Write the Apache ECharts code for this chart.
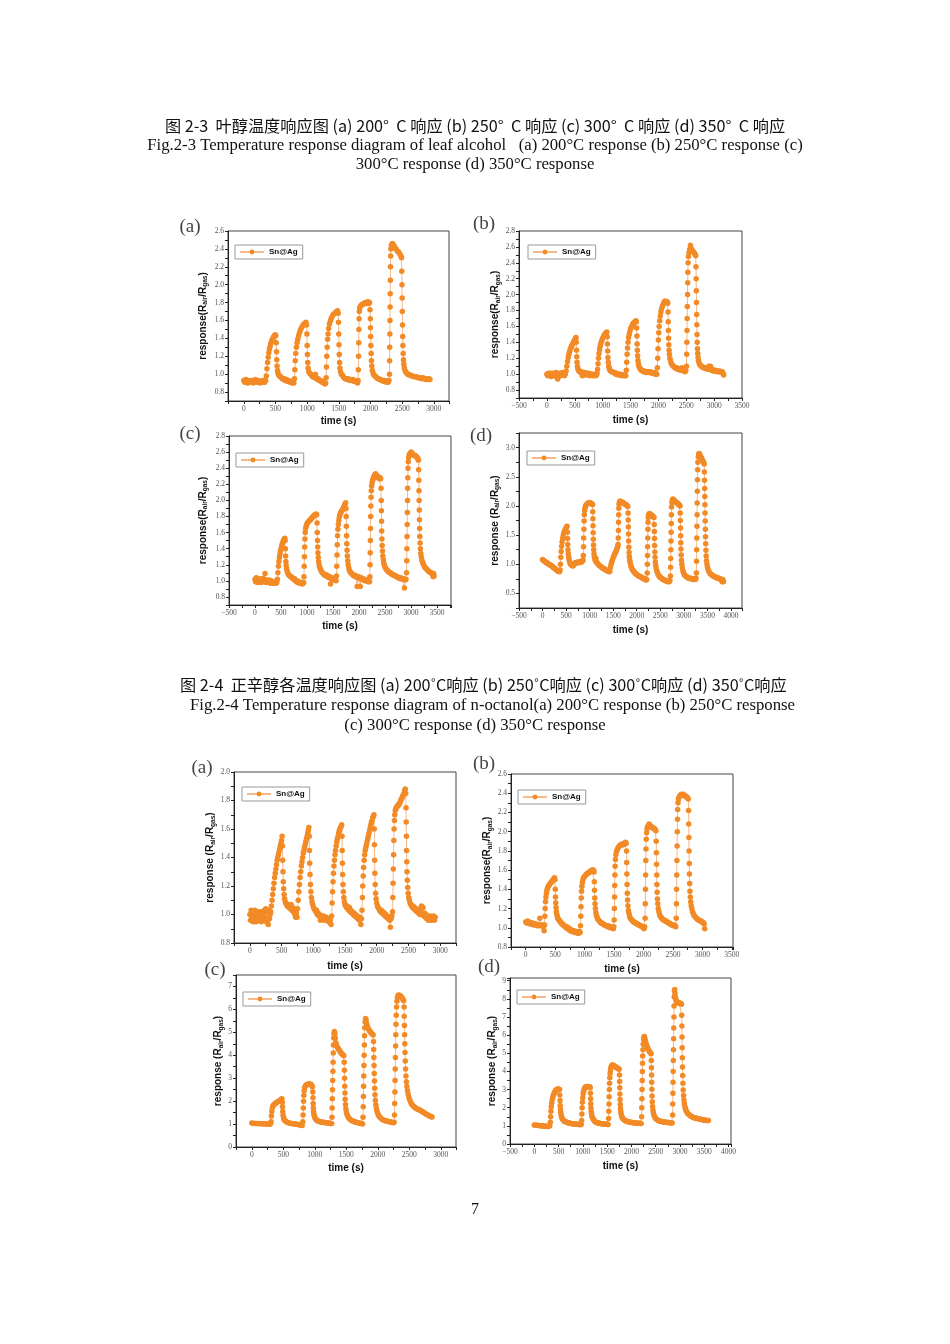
<!DOCTYPE html>
<html>
<head>
<meta charset="utf-8">
<script src="https://cdn.jsdelivr.net/npm/echarts@6/dist/echarts.min.js"></script>
<style>
  html, body { margin: 0; padding: 0; background: #fff; }
  #chart { width: 950px; height: 1344px; }
</style>
</head>
<body>
<div id="chart"></div>
<script>
// time (s) / response pairs, one array per panel

// Fig.2-3 leaf alcohol
const leafA = [
  [0,0.93],[15,0.91],[30,0.94],[45,0.92],[60,0.90],[75,0.93],[90,0.92],[105,0.91],[120,0.93],[135,0.92],[150,0.90],[165,0.93],[180,0.94],[195,0.92],[210,0.91],[225,0.93],[240,0.92],[255,0.90],[270,0.92],[285,0.91],[300,0.93],[315,0.92],[330,0.91],[345,0.93],
  [355,0.98],[365,1.06],[375,1.13],[385,1.19],[395,1.24],[405,1.28],[415,1.31],[425,1.34],[435,1.36],[445,1.38],[455,1.39],[465,1.41],[475,1.42],[485,1.43],[495,1.44],[505,1.43],[512,1.35],[516,1.25],[520,1.16],[525,1.09],[532,1.04],[540,1.01],[550,0.99],[565,0.98],[580,0.97],[595,0.96],[610,0.95],[625,0.94],[640,0.95],[655,0.93],[670,0.94],[685,0.92],[700,0.93],[715,0.92],[730,0.91],[745,0.92],[760,0.90],[775,0.91],[790,0.90],
  [800,0.95],[805,1.05],[812,1.15],[820,1.23],[830,1.30],[840,1.35],[852,1.39],[865,1.43],[878,1.46],[892,1.49],[905,1.51],[920,1.53],[935,1.55],[950,1.56],[965,1.57],[980,1.58],[990,1.55],[996,1.45],[1000,1.32],[1004,1.22],[1009,1.13],[1015,1.07],[1025,1.03],[1040,1.01],[1055,1.00],[1070,0.99],[1085,0.97],[1100,0.98],[1115,0.96],[1130,1.00],[1145,0.96],[1160,0.94],[1175,0.95],[1190,0.93],[1205,0.93],[1220,0.92],[1235,0.91],[1250,0.92],[1265,0.90],[1280,0.89],[1292,0.90],
  [1300,0.96],[1305,1.08],[1310,1.20],[1316,1.30],[1323,1.39],[1330,1.45],[1340,1.51],[1352,1.56],[1365,1.59],[1378,1.62],[1392,1.64],[1406,1.66],[1420,1.67],[1435,1.68],[1450,1.69],[1465,1.70],[1480,1.71],[1490,1.68],[1495,1.58],[1499,1.45],[1503,1.33],[1507,1.22],[1512,1.13],[1518,1.07],[1526,1.03],[1540,1.00],[1555,0.99],[1570,0.97],[1585,0.96],[1600,0.95],[1615,0.95],[1630,0.94],[1645,0.95],[1660,0.94],[1675,0.93],[1690,0.94],[1705,0.93],[1720,0.94],[1735,0.92],[1750,0.93],[1765,0.92],[1780,0.91],[1795,0.90],
  [1805,0.93],[1808,1.05],[1811,1.20],[1814,1.35],[1817,1.50],[1820,1.62],[1824,1.70],[1830,1.74],[1840,1.76],[1855,1.77],[1870,1.78],[1885,1.78],[1900,1.79],[1915,1.80],[1930,1.79],[1945,1.80],[1960,1.81],[1975,1.79],[1985,1.80],[1993,1.72],[1997,1.62],[2000,1.52],[2003,1.42],[2006,1.32],[2010,1.23],[2015,1.15],[2021,1.09],[2030,1.04],[2042,1.01],[2055,0.99],[2070,0.98],[2085,0.97],[2100,0.96],[2115,0.95],[2130,0.95],[2145,0.94],[2160,0.94],[2175,0.93],[2190,0.93],[2205,0.92],[2220,0.93],[2235,0.92],[2250,0.91],[2265,0.92],[2280,0.91],[2292,0.93],
  [2300,1.00],[2302,1.15],[2304,1.30],[2306,1.45],[2308,1.60],[2310,1.75],[2312,1.90],[2314,2.05],[2316,2.20],[2318,2.32],[2322,2.40],[2330,2.44],[2345,2.46],[2360,2.45],[2375,2.43],[2390,2.41],[2405,2.40],[2420,2.38],[2435,2.37],[2450,2.36],[2465,2.34],[2480,2.32],[2490,2.30],[2494,2.15],[2497,2.00],[2500,1.85],[2503,1.70],[2506,1.55],[2509,1.42],[2512,1.32],[2516,1.23],[2521,1.16],[2527,1.11],[2535,1.07],[2545,1.04],[2560,1.02],[2575,1.01],[2590,1.00],[2610,0.99],[2630,0.99],[2650,0.98],[2670,0.98],[2690,0.97],[2710,0.97],[2730,0.97],[2750,0.96],[2770,0.96],[2790,0.96],[2810,0.95],[2830,0.96],[2850,0.95],[2870,0.94],[2890,0.95],[2910,0.94],[2925,0.95],[2940,0.94]
];

const leafB = [
  [0,1.00],[15,0.98],[30,1.01],[45,0.99],[60,1.01],[75,0.97],[90,1.00],[105,1.01],[120,0.98],[135,1.00],[150,0.99],[165,1.02],[180,0.96],[195,0.94],[210,0.99],[225,1.01],[240,0.98],[255,1.00],[270,1.02],[285,0.99],[300,1.00],[315,0.98],[330,1.00],
  [345,1.04],[358,1.10],[370,1.16],[382,1.21],[394,1.25],[406,1.28],[418,1.31],[430,1.33],[442,1.35],[454,1.37],[466,1.38],[478,1.40],[490,1.42],[502,1.43],[514,1.45],[522,1.46],[528,1.40],[532,1.30],[536,1.22],[541,1.15],[548,1.10],[556,1.07],[566,1.05],[578,1.04],[590,1.03],[605,1.02],[620,1.03],[635,0.98],[650,1.02],[665,1.01],[680,1.02],[695,0.99],[710,1.01],[725,1.00],[740,0.99],[755,1.01],[770,0.98],[785,1.00],[800,0.99],[815,1.00],[830,0.98],[845,1.00],[860,0.99],[875,0.98],[890,0.99],[900,1.01],
  [910,1.06],[918,1.13],[926,1.20],[935,1.26],[945,1.31],[955,1.35],[966,1.38],[978,1.41],[990,1.43],[1002,1.45],[1015,1.47],[1028,1.49],[1040,1.50],[1052,1.51],[1064,1.52],[1075,1.53],[1082,1.47],[1086,1.38],[1090,1.29],[1095,1.21],[1101,1.15],[1109,1.10],[1119,1.07],[1131,1.05],[1145,1.04],[1160,1.03],[1175,1.03],[1190,1.02],[1205,1.02],[1220,1.01],[1235,1.00],[1250,1.01],[1265,1.00],[1280,0.99],[1295,1.00],[1310,0.99],[1325,1.00],[1340,0.98],[1355,0.99],[1370,0.99],[1385,0.98],[1400,0.99],[1415,0.98],
  [1425,1.05],[1432,1.15],[1439,1.25],[1447,1.33],[1456,1.40],[1466,1.46],[1477,1.50],[1489,1.54],[1502,1.57],[1515,1.59],[1528,1.61],[1541,1.63],[1554,1.64],[1567,1.65],[1580,1.66],[1595,1.67],[1605,1.66],[1611,1.58],[1615,1.48],[1619,1.38],[1623,1.30],[1628,1.23],[1634,1.17],[1642,1.13],[1652,1.10],[1664,1.08],[1678,1.06],[1692,1.05],[1706,1.05],[1720,1.04],[1735,1.03],[1750,1.04],[1765,1.03],[1780,1.02],[1795,1.03],[1810,1.02],[1825,1.03],[1840,1.02],[1855,1.03],[1870,1.02],[1885,1.01],[1900,1.02],[1915,1.01],[1930,1.02],[1945,1.00],[1960,1.01],[1972,1.00],
  [1982,1.08],[1988,1.20],[1994,1.32],[2000,1.43],[2007,1.52],[2015,1.60],[2024,1.67],[2034,1.73],[2045,1.78],[2057,1.82],[2070,1.85],[2083,1.87],[2096,1.89],[2108,1.91],[2120,1.92],[2132,1.91],[2145,1.90],[2158,1.91],[2168,1.89],[2174,1.78],[2177,1.66],[2180,1.55],[2183,1.45],[2187,1.37],[2192,1.30],[2198,1.25],[2206,1.20],[2216,1.17],[2228,1.14],[2242,1.12],[2256,1.11],[2270,1.10],[2285,1.09],[2300,1.08],[2315,1.07],[2330,1.08],[2345,1.06],[2360,1.07],[2375,1.06],[2390,1.05],[2405,1.06],[2420,1.08],[2435,1.05],[2450,1.04],[2465,1.06],[2480,1.03],[2492,1.05],
  [2505,1.10],[2508,1.25],[2511,1.40],[2514,1.55],[2517,1.70],[2520,1.85],[2523,2.00],[2526,2.15],[2529,2.28],[2533,2.40],[2540,2.48],[2550,2.53],[2562,2.57],[2575,2.62],[2588,2.58],[2600,2.56],[2612,2.55],[2624,2.54],[2636,2.53],[2648,2.52],[2660,2.50],[2670,2.49],[2675,2.35],[2678,2.20],[2681,2.05],[2684,1.90],[2687,1.75],[2690,1.62],[2693,1.50],[2697,1.40],[2701,1.32],[2706,1.26],[2712,1.21],[2720,1.17],[2730,1.14],[2742,1.12],[2755,1.11],[2770,1.10],[2785,1.09],[2800,1.09],[2815,1.08],[2830,1.08],[2845,1.07],[2860,1.07],[2875,1.06],[2890,1.07],[2905,1.10],[2920,1.06],[2935,1.10],[2950,1.05],[2965,1.06],[2980,1.04],[2995,1.05],[3010,1.04],[3025,1.05],[3040,1.04],[3055,1.03],[3070,1.04],[3085,1.03],[3100,1.04],[3115,1.03],[3130,1.02],[3145,1.03],[3160,1.01],[3172,0.99]
];

const leafC = [
  [0,1.02],[12,0.99],[24,1.04],[36,1.00],[48,0.98],[60,1.03],[72,1.01],[84,0.99],[96,1.02],[108,1.00],[120,0.98],[132,1.01],[144,1.03],[156,0.99],[168,1.00],[180,1.02],[192,1.09],[204,1.00],[216,0.98],[228,1.01],[240,0.99],[252,1.00],[264,0.98],[276,1.01],[288,0.99],[300,0.97],[312,1.00],[324,0.98],[336,0.99],[348,0.97],[360,0.99],[372,0.98],[384,0.97],[396,0.99],[408,0.97],[420,0.98],
  [430,1.02],[440,1.10],[450,1.18],[460,1.24],[470,1.29],[480,1.33],[490,1.37],[500,1.40],[512,1.43],[524,1.46],[536,1.48],[548,1.50],[560,1.51],[572,1.53],[580,1.50],[585,1.40],[589,1.31],[594,1.24],[600,1.19],[608,1.15],[618,1.12],[630,1.10],[644,1.08],[658,1.07],[672,1.06],[686,1.05],[700,1.05],[714,1.04],[728,1.03],[742,1.02],[756,1.03],[770,1.01],[784,1.00],[798,0.99],[812,1.00],[826,0.98],[840,0.99],[854,0.97],[868,0.98],[882,0.97],[896,0.98],[910,0.96],[924,0.97],[936,0.98],
  [942,1.05],[946,1.18],[950,1.30],[955,1.42],[960,1.52],[966,1.60],[974,1.65],[984,1.68],[995,1.70],[1008,1.72],[1022,1.73],[1036,1.74],[1050,1.75],[1064,1.76],[1078,1.77],[1092,1.78],[1106,1.79],[1120,1.80],[1134,1.81],[1148,1.82],[1162,1.82],[1176,1.83],[1188,1.82],[1194,1.72],[1198,1.60],[1202,1.50],[1206,1.42],[1211,1.35],[1217,1.29],[1224,1.24],[1233,1.20],[1244,1.17],[1256,1.15],[1270,1.13],[1284,1.11],[1298,1.10],[1312,1.09],[1326,1.08],[1340,1.07],[1354,1.08],[1368,1.06],[1382,1.07],[1396,1.05],[1410,1.06],[1424,1.04],[1438,1.05],[1452,0.96],[1466,1.03],[1480,1.04],[1494,1.02],[1506,1.03],[1520,1.01],[1534,1.02],[1548,1.01],[1560,1.00],
  [1568,1.06],[1572,1.18],[1577,1.32],[1582,1.45],[1588,1.56],[1595,1.64],[1603,1.70],[1612,1.75],[1622,1.79],[1633,1.82],[1645,1.84],[1657,1.86],[1670,1.87],[1683,1.88],[1696,1.90],[1709,1.92],[1722,1.94],[1735,1.96],[1744,1.97],[1750,1.90],[1754,1.80],[1758,1.68],[1762,1.56],[1766,1.46],[1771,1.38],[1777,1.31],[1784,1.25],[1793,1.20],[1804,1.16],[1817,1.13],[1831,1.11],[1845,1.10],[1860,1.09],[1875,1.08],[1890,1.07],[1905,1.06],[1920,1.07],[1935,1.05],[1950,1.06],[1965,0.93],[1980,1.04],[1995,1.05],[2010,1.03],[2025,0.93],[2040,1.04],[2055,1.02],[2070,1.03],[2085,1.01],[2100,1.02],[2115,1.00],[2130,1.01],[2145,1.00],[2160,1.01],[2175,0.99],[2190,1.00],[2203,0.99],
  [2210,1.05],[2213,1.20],[2216,1.35],[2219,1.50],[2222,1.65],[2225,1.80],[2228,1.93],[2232,2.04],[2237,2.12],[2244,2.18],[2252,2.22],[2262,2.25],[2272,2.27],[2284,2.29],[2296,2.31],[2308,2.32],[2320,2.33],[2332,2.31],[2344,2.29],[2356,2.30],[2368,2.28],[2380,2.29],[2392,2.27],[2404,2.28],[2416,2.27],[2424,2.15],[2428,2.00],[2431,1.87],[2434,1.74],[2437,1.62],[2441,1.52],[2446,1.44],[2452,1.37],[2459,1.31],[2468,1.26],[2478,1.22],[2490,1.19],[2503,1.17],[2517,1.15],[2531,1.14],[2545,1.13],[2560,1.12],[2575,1.11],[2590,1.10],[2605,1.10],[2620,1.09],[2635,1.08],[2650,1.08],[2665,1.07],[2680,1.07],[2695,1.06],[2710,1.06],[2725,1.05],[2740,1.05],[2755,1.04],[2770,1.04],[2785,1.03],[2800,1.04],[2815,1.03],[2830,1.02],[2845,1.03],[2860,1.02],[2875,0.91],[2890,1.01],[2905,1.02],
  [2915,1.10],[2918,1.25],[2921,1.40],[2924,1.55],[2927,1.70],[2930,1.85],[2933,2.00],[2936,2.15],[2939,2.28],[2943,2.40],[2948,2.48],[2955,2.53],[2965,2.56],[2977,2.58],[2990,2.59],[3003,2.60],[3016,2.59],[3029,2.58],[3042,2.57],[3055,2.56],[3068,2.56],[3081,2.55],[3094,2.55],[3107,2.54],[3120,2.53],[3133,2.52],[3143,2.50],[3148,2.38],[3151,2.25],[3154,2.12],[3157,2.00],[3160,1.88],[3163,1.76],[3166,1.65],[3170,1.55],[3175,1.47],[3181,1.40],[3189,1.34],[3198,1.30],[3209,1.26],[3222,1.23],[3236,1.21],[3250,1.19],[3265,1.17],[3280,1.16],[3295,1.15],[3310,1.14],[3325,1.13],[3340,1.12],[3355,1.11],[3370,1.11],[3385,1.10],[3400,1.09],[3415,1.08],[3425,1.05],[3435,1.09],[3445,1.06]
];

const leafD = [
  [0,1.08],[15,1.07],[30,1.06],[45,1.05],[60,1.04],[75,1.03],[90,1.02],[105,1.02],[120,1.01],[135,1.00],[150,0.99],[165,0.99],[180,0.98],[195,0.97],[210,0.96],[225,0.95],[240,0.94],[255,0.93],[270,0.92],[285,0.91],[300,0.90],[315,0.89],[330,0.88],[345,0.88],[360,0.87],[372,0.90],
  [380,1.00],[388,1.12],[396,1.22],[405,1.31],[415,1.38],[426,1.44],[438,1.49],[450,1.53],[462,1.56],[474,1.58],[486,1.60],[498,1.62],[510,1.64],[520,1.65],[527,1.55],[531,1.44],[535,1.34],[540,1.25],[546,1.18],[553,1.13],[562,1.09],[572,1.05],[584,1.02],[596,1.00],[610,0.99],[624,0.98],[640,0.97],[656,0.98],[672,1.00],[688,1.02],[704,1.03],[720,1.03],[736,1.02],[752,1.04],[768,1.03],[784,1.04],[800,1.03],[816,1.05],[832,1.04],[848,1.06],[860,1.07],
  [866,1.15],[870,1.30],[874,1.45],[878,1.60],[882,1.74],[887,1.85],[893,1.92],[902,1.97],[914,2.00],[928,2.02],[942,2.03],[956,2.04],[970,2.05],[984,2.05],[998,2.06],[1012,2.05],[1026,2.04],[1040,2.04],[1054,2.03],[1062,2.02],[1066,1.90],[1069,1.78],[1072,1.66],[1075,1.54],[1078,1.43],[1082,1.33],[1087,1.25],[1093,1.18],[1100,1.13],[1110,1.09],[1122,1.06],[1134,1.10],[1146,1.04],[1160,1.02],[1175,1.01],[1190,0.99],[1205,0.98],[1220,0.97],[1235,0.96],[1250,0.95],[1265,0.94],[1280,0.93],[1295,0.93],[1310,0.92],[1325,0.91],[1340,0.90],[1355,0.90],[1370,0.89],[1385,0.88],[1400,0.88],[1415,0.87],[1430,0.88],
  [1442,0.95],[1455,1.00],[1468,1.04],[1481,1.07],[1494,1.10],[1507,1.13],[1520,1.15],[1533,1.18],[1546,1.20],[1559,1.22],[1572,1.25],[1585,1.28],[1596,1.31],[1604,1.34],[1608,1.45],[1611,1.58],[1614,1.72],[1617,1.85],[1620,1.96],[1625,2.03],[1632,2.06],[1642,2.08],[1655,2.08],[1668,2.07],[1681,2.07],[1694,2.06],[1707,2.05],[1720,2.05],[1733,2.04],[1746,2.03],[1759,2.03],[1772,2.02],[1785,2.01],[1798,2.00],[1810,1.99],[1816,1.88],[1819,1.76],[1822,1.64],[1825,1.52],[1828,1.40],[1832,1.29],[1837,1.20],[1843,1.13],[1851,1.07],[1861,1.02],[1873,0.98],[1886,0.95],[1900,0.92],[1915,0.90],[1930,0.88],[1945,0.87],[1960,0.85],[1975,0.84],[1990,0.83],[2005,0.82],[2020,0.81],[2035,0.80],[2050,0.80],[2065,0.79],[2080,0.78],[2095,0.78],[2110,0.77],[2125,0.76],[2140,0.76],[2155,0.75],[2170,0.74],[2185,0.75],[2200,0.73],[2212,0.74],
  [2222,0.85],[2225,1.00],[2228,1.15],[2231,1.30],[2234,1.45],[2237,1.60],[2240,1.72],[2244,1.80],[2250,1.84],[2260,1.86],[2272,1.87],[2284,1.86],[2296,1.85],[2308,1.84],[2320,1.84],[2332,1.83],[2344,1.82],[2356,1.81],[2366,1.80],[2371,1.68],[2374,1.56],[2377,1.44],[2380,1.32],[2384,1.21],[2389,1.12],[2395,1.04],[2403,0.98],[2413,0.93],[2425,0.89],[2438,0.86],[2452,0.83],[2466,0.81],[2480,0.79],[2495,0.78],[2510,0.77],[2525,0.76],[2540,0.75],[2555,0.74],[2570,0.74],[2585,0.73],[2600,0.72],[2615,0.72],[2630,0.71],[2645,0.71],[2660,0.70],[2675,0.71],[2690,0.70],[2705,0.72],
  [2715,0.80],[2718,0.95],[2721,1.10],[2724,1.25],[2727,1.40],[2730,1.55],[2733,1.70],[2736,1.85],[2740,1.98],[2746,2.06],[2755,2.10],[2766,2.12],[2778,2.11],[2790,2.10],[2802,2.09],[2814,2.08],[2826,2.07],[2838,2.06],[2850,2.05],[2862,2.05],[2874,2.04],[2886,2.03],[2898,2.02],[2910,2.01],[2918,2.00],[2923,1.88],[2926,1.75],[2929,1.62],[2932,1.49],[2935,1.37],[2939,1.26],[2944,1.16],[2950,1.07],[2958,1.00],[2968,0.94],[2980,0.89],[2993,0.86],[3007,0.83],[3021,0.81],[3036,0.80],[3051,0.79],[3066,0.78],[3081,0.77],[3096,0.77],[3111,0.76],[3126,0.76],[3141,0.75],[3156,0.76],[3171,0.75],[3186,0.74],[3201,0.75],[3216,0.74],[3231,0.75],[3246,0.74],[3258,0.76],
  [3266,0.85],[3269,1.05],[3272,1.25],[3275,1.45],[3278,1.65],[3281,1.85],[3284,2.05],[3287,2.25],[3290,2.45],[3294,2.62],[3299,2.75],[3306,2.84],[3315,2.89],[3326,2.90],[3338,2.88],[3350,2.86],[3362,2.84],[3374,2.82],[3386,2.80],[3398,2.78],[3410,2.76],[3422,2.74],[3432,2.72],[3436,2.58],[3439,2.44],[3442,2.30],[3445,2.16],[3448,2.02],[3451,1.88],[3454,1.74],[3457,1.60],[3460,1.47],[3464,1.35],[3469,1.24],[3475,1.14],[3482,1.06],[3491,1.00],[3502,0.95],[3515,0.91],[3530,0.88],[3545,0.86],[3560,0.84],[3575,0.83],[3590,0.82],[3605,0.81],[3620,0.80],[3635,0.79],[3650,0.79],[3665,0.78],[3680,0.78],[3695,0.77],[3710,0.77],[3725,0.76],[3740,0.76],[3755,0.75],[3770,0.75],[3785,0.74],[3800,0.73],[3812,0.70],[3822,0.74],[3832,0.72],[3842,0.70]
];

// Fig.2-4 n-octanol
const octA = [
  [0,1.00],[10,0.96],[20,1.03],[30,0.98],[40,1.02],[50,0.95],[60,1.01],[70,0.97],[80,1.03],[90,0.99],[100,0.95],[110,1.02],[120,0.97],[130,1.01],[140,0.96],[150,1.02],[160,0.98],[170,1.00],[180,0.95],[190,1.02],[200,0.97],[210,1.01],[220,0.96],[230,1.03],[240,0.98],[250,1.04],[260,0.95],[270,1.02],[280,0.96],[290,0.93],[300,1.03],[310,0.97],[320,1.00],
  [330,1.02],[340,1.06],[350,1.10],[360,1.14],[370,1.18],[380,1.22],[390,1.26],[400,1.29],[410,1.32],[420,1.35],[430,1.38],[440,1.40],[450,1.42],[460,1.44],[470,1.46],[480,1.48],[490,1.50],[500,1.52],[508,1.55],[514,1.48],[518,1.38],[522,1.30],[527,1.23],[533,1.18],[540,1.14],[548,1.11],[557,1.09],[567,1.08],[578,1.07],[590,1.06],[602,1.07],[614,1.05],[626,1.06],[638,1.04],[650,1.07],[662,1.03],[674,1.05],[686,1.02],[698,1.04],[710,1.00],[722,0.98],[734,1.01],[744,0.98],
  [752,1.04],[762,1.10],[772,1.16],[782,1.21],[792,1.26],[802,1.30],[812,1.34],[822,1.37],[832,1.40],[842,1.43],[852,1.45],[862,1.47],[872,1.49],[882,1.51],[892,1.53],[902,1.55],[912,1.57],[922,1.59],[930,1.61],[936,1.55],[940,1.45],[944,1.36],[949,1.28],[955,1.21],[962,1.16],[970,1.12],[980,1.09],[991,1.07],[1003,1.05],[1015,1.04],[1027,1.03],[1039,1.02],[1051,1.03],[1063,1.00],[1075,1.01],[1087,0.99],[1099,1.00],[1111,0.96],[1123,0.99],[1135,0.98],[1147,0.97],[1159,0.99],[1171,0.96],[1183,0.98],[1195,0.97],[1207,0.98],[1219,0.96],[1231,0.97],[1243,0.95],[1255,0.97],[1267,0.96],[1280,0.93],
  [1290,0.99],[1297,1.08],[1304,1.16],[1311,1.23],[1318,1.29],[1326,1.34],[1334,1.38],[1342,1.42],[1350,1.45],[1360,1.48],[1370,1.51],[1380,1.53],[1390,1.55],[1400,1.57],[1410,1.59],[1420,1.60],[1430,1.61],[1440,1.62],[1448,1.63],[1453,1.55],[1456,1.45],[1459,1.36],[1463,1.28],[1468,1.21],[1474,1.16],[1481,1.12],[1490,1.09],[1500,1.07],[1511,1.06],[1522,1.05],[1534,1.06],[1546,1.04],[1558,1.03],[1570,1.05],[1582,1.02],[1594,1.03],[1606,1.01],[1618,1.02],[1630,1.00],[1642,1.01],[1654,0.99],[1666,1.00],[1678,0.98],[1690,0.99],[1702,0.97],[1714,0.98],[1726,0.96],[1738,0.98],[1750,0.93],[1760,0.97],
  [1768,1.03],[1774,1.12],[1780,1.20],[1787,1.27],[1794,1.33],[1802,1.38],[1810,1.42],[1818,1.45],[1828,1.47],[1838,1.49],[1848,1.51],[1858,1.53],[1868,1.55],[1878,1.57],[1888,1.59],[1898,1.61],[1908,1.63],[1918,1.65],[1928,1.66],[1938,1.68],[1948,1.69],[1956,1.70],[1961,1.60],[1964,1.49],[1967,1.38],[1971,1.29],[1976,1.21],[1982,1.15],[1990,1.11],[2000,1.08],[2011,1.06],[2023,1.05],[2035,1.04],[2047,1.03],[2059,1.02],[2071,1.03],[2083,1.01],[2095,1.02],[2107,1.00],[2119,1.01],[2131,0.99],[2143,1.00],[2155,0.98],[2167,0.99],[2179,0.97],[2191,0.98],[2203,0.96],[2215,0.91],[2227,0.97],[2239,0.99],
  [2250,1.02],[2254,1.12],[2258,1.22],[2262,1.32],[2266,1.42],[2270,1.52],[2274,1.60],[2279,1.66],[2285,1.70],[2292,1.73],[2300,1.74],[2310,1.75],[2320,1.76],[2330,1.76],[2340,1.77],[2350,1.77],[2360,1.78],[2370,1.79],[2380,1.80],[2390,1.81],[2400,1.82],[2410,1.83],[2420,1.84],[2430,1.85],[2440,1.87],[2450,1.88],[2458,1.85],[2462,1.75],[2465,1.65],[2468,1.55],[2471,1.45],[2474,1.37],[2478,1.30],[2483,1.24],[2489,1.19],[2496,1.15],[2505,1.12],[2515,1.10],[2526,1.08],[2538,1.07],[2550,1.06],[2562,1.05],[2574,1.06],[2586,1.04],[2598,1.05],[2610,1.03],[2622,1.04],[2634,1.02],[2646,1.03],[2658,1.01],[2670,1.02],[2682,1.00],[2694,1.04],[2706,1.06],[2718,1.00],[2730,1.05],[2742,0.99],[2754,1.01],[2766,0.98],[2778,1.00],[2790,0.97],[2802,0.99],[2814,0.96],[2826,0.98],[2838,0.97],[2850,0.99],[2862,0.96],[2874,0.98],[2886,0.97],[2898,0.99],[2910,0.96],[2922,0.98]
];

const octB = [
  [0,1.06],[15,1.05],[30,1.07],[45,1.05],[60,1.06],[75,1.04],[90,1.05],[105,1.04],[120,1.05],[135,1.03],[150,1.04],[165,1.03],[180,1.04],[195,1.02],[210,1.03],[225,1.02],[240,1.10],[255,1.03],[270,1.02],[285,1.03],[300,1.01],[312,0.97],
  [320,1.03],[325,1.12],[330,1.20],[336,1.27],[343,1.32],[351,1.36],[360,1.39],[370,1.41],[381,1.43],[393,1.44],[405,1.45],[417,1.46],[429,1.47],[441,1.48],[453,1.49],[465,1.50],[477,1.51],[488,1.52],[496,1.50],[502,1.40],[506,1.32],[510,1.26],[515,1.21],[521,1.17],[528,1.14],[536,1.12],[545,1.10],[555,1.09],[566,1.08],[578,1.07],[590,1.06],[602,1.05],[614,1.04],[626,1.04],[638,1.03],[650,1.02],[662,1.02],[674,1.01],[686,1.00],[698,1.01],[710,0.99],[722,1.00],[734,0.98],[746,0.99],[758,0.97],[770,0.98],[782,0.96],[794,0.97],[806,0.96],[818,0.97],[830,0.95],[842,0.96],[854,0.95],[866,0.96],[878,0.95],[890,0.94],[902,0.95],[914,0.96],[924,0.95],
  [931,1.02],[935,1.12],[939,1.22],[943,1.31],[948,1.38],[954,1.43],[962,1.47],[972,1.50],[983,1.52],[995,1.53],[1007,1.54],[1019,1.55],[1031,1.56],[1043,1.56],[1055,1.57],[1067,1.57],[1079,1.58],[1091,1.58],[1103,1.59],[1115,1.59],[1127,1.60],[1139,1.59],[1151,1.60],[1160,1.58],[1165,1.48],[1168,1.39],[1172,1.31],[1177,1.25],[1183,1.20],[1191,1.16],[1200,1.13],[1211,1.11],[1223,1.09],[1236,1.08],[1250,1.07],[1264,1.06],[1278,1.05],[1292,1.05],[1306,1.04],[1320,1.04],[1334,1.03],[1348,1.03],[1362,1.02],[1376,1.02],[1390,1.01],[1404,1.02],[1418,1.01],[1432,1.00],[1446,1.01],[1460,1.00],[1474,1.00],[1488,0.99],[1496,1.01],
  [1502,1.08],[1505,1.20],[1508,1.32],[1511,1.44],[1514,1.55],[1518,1.64],[1523,1.71],[1530,1.76],[1540,1.79],[1552,1.81],[1565,1.83],[1578,1.84],[1591,1.85],[1604,1.86],[1617,1.86],[1630,1.87],[1643,1.86],[1656,1.87],[1669,1.88],[1682,1.87],[1695,1.89],[1706,1.88],[1712,1.80],[1715,1.68],[1718,1.56],[1721,1.45],[1725,1.36],[1730,1.29],[1736,1.23],[1744,1.18],[1753,1.15],[1764,1.12],[1776,1.10],[1789,1.09],[1803,1.08],[1817,1.07],[1831,1.06],[1845,1.06],[1859,1.05],[1873,1.05],[1887,1.04],[1901,1.04],[1915,1.03],[1929,1.03],[1943,1.02],[1957,1.02],[1971,1.01],[1985,1.01],[1999,1.00],[2010,0.99],[2020,1.01],
  [2027,1.10],[2030,1.25],[2033,1.40],[2036,1.55],[2039,1.70],[2042,1.82],[2046,1.92],[2052,1.99],[2060,2.03],[2070,2.05],[2082,2.06],[2094,2.08],[2104,2.07],[2116,2.06],[2128,2.05],[2140,2.05],[2152,2.04],[2164,2.04],[2176,2.03],[2188,2.03],[2200,2.02],[2210,2.01],[2216,1.90],[2219,1.78],[2222,1.66],[2225,1.55],[2228,1.45],[2232,1.37],[2237,1.30],[2243,1.25],[2251,1.20],[2261,1.17],[2272,1.14],[2284,1.12],[2297,1.11],[2311,1.10],[2325,1.09],[2339,1.08],[2353,1.08],[2367,1.07],[2381,1.07],[2395,1.06],[2409,1.06],[2423,1.05],[2437,1.05],[2451,1.04],[2465,1.04],[2479,1.03],[2493,1.03],[2507,1.02],[2521,1.03],[2535,1.02],[2548,1.01],
  [2556,1.10],[2559,1.25],[2562,1.40],[2565,1.55],[2568,1.70],[2571,1.85],[2574,2.00],[2577,2.13],[2581,2.23],[2587,2.30],[2595,2.34],[2605,2.36],[2617,2.37],[2629,2.38],[2641,2.39],[2653,2.38],[2665,2.38],[2677,2.39],[2689,2.38],[2701,2.37],[2713,2.37],[2725,2.36],[2737,2.36],[2749,2.35],[2760,2.34],[2765,2.22],[2768,2.08],[2771,1.94],[2774,1.80],[2777,1.67],[2780,1.56],[2784,1.46],[2789,1.38],[2795,1.32],[2802,1.27],[2810,1.23],[2820,1.20],[2831,1.17],[2843,1.15],[2856,1.13],[2870,1.12],[2885,1.11],[2900,1.10],[2915,1.09],[2930,1.08],[2945,1.08],[2960,1.07],[2975,1.07],[2990,1.06],[3005,1.06],[3018,1.05],[3030,1.04],[3040,0.99]
];

const octC = [
  [0,1.05],[20,1.04],[40,1.03],[60,1.03],[80,1.02],[100,1.02],[120,1.01],[140,1.02],[160,1.01],[180,1.00],[200,1.01],[220,1.00],[240,1.00],[260,1.00],[280,0.99],[296,1.00],
  [306,1.10],[312,1.35],[318,1.55],[325,1.70],[334,1.78],[345,1.83],[358,1.86],[372,1.89],[386,1.92],[400,1.95],[414,1.98],[428,2.00],[442,2.02],[456,2.05],[468,2.08],[478,2.10],[484,1.95],[488,1.75],[492,1.55],[497,1.40],[503,1.30],[511,1.22],[521,1.17],[533,1.13],[547,1.10],[562,1.08],[578,1.06],[594,1.05],[610,1.04],[626,1.03],[642,1.02],[658,1.01],[674,1.00],[690,1.00],[706,0.99],[722,0.98],[738,0.98],[754,0.97],[770,0.96],[786,0.95],[800,0.94],
  [810,1.10],[814,1.40],[818,1.70],[822,2.00],[826,2.25],[831,2.45],[838,2.57],[847,2.64],[857,2.68],[868,2.71],[880,2.73],[892,2.74],[904,2.75],[916,2.75],[928,2.74],[940,2.72],[952,2.68],[962,2.62],[968,2.40],[971,2.15],[974,1.90],[977,1.70],[981,1.55],[986,1.43],[993,1.34],[1002,1.27],[1013,1.22],[1026,1.18],[1040,1.15],[1055,1.13],[1070,1.11],[1086,1.10],[1102,1.09],[1118,1.08],[1134,1.08],[1150,1.07],[1166,1.06],[1182,1.06],[1198,1.05],[1214,1.05],[1230,1.04],[1246,1.03],[1260,1.02],[1268,1.03],
  [1272,1.30],[1275,1.70],[1278,2.10],[1281,2.50],[1284,2.90],[1287,3.30],[1290,3.70],[1293,4.10],[1296,4.45],[1300,4.75],[1305,4.95],[1311,5.04],[1318,4.95],[1326,4.75],[1334,4.55],[1343,4.45],[1353,4.38],[1364,4.32],[1376,4.27],[1388,4.22],[1400,4.17],[1412,4.12],[1424,4.08],[1436,4.04],[1448,4.01],[1460,3.98],[1466,3.70],[1469,3.35],[1472,3.00],[1475,2.65],[1478,2.35],[1482,2.08],[1487,1.85],[1493,1.67],[1500,1.54],[1509,1.44],[1519,1.36],[1531,1.30],[1544,1.25],[1558,1.21],[1573,1.18],[1588,1.15],[1604,1.13],[1620,1.11],[1636,1.10],[1652,1.08],[1668,1.07],[1684,1.06],[1700,1.05],[1716,1.04],[1732,1.03],[1746,1.02],[1758,1.00],
  [1765,1.30],[1768,1.75],[1771,2.20],[1774,2.65],[1777,3.10],[1780,3.55],[1783,4.00],[1786,4.45],[1789,4.85],[1793,5.20],[1798,5.45],[1805,5.60],[1813,5.55],[1822,5.40],[1832,5.28],[1843,5.20],[1855,5.13],[1867,5.07],[1879,5.02],[1891,4.98],[1903,4.95],[1915,4.92],[1925,4.88],[1931,4.60],[1934,4.25],[1937,3.90],[1940,3.55],[1943,3.20],[1946,2.88],[1950,2.56],[1955,2.28],[1961,2.04],[1968,1.84],[1977,1.68],[1987,1.56],[1999,1.46],[2012,1.38],[2026,1.32],[2041,1.27],[2057,1.23],[2073,1.20],[2089,1.18],[2105,1.16],[2121,1.14],[2137,1.13],[2153,1.12],[2169,1.11],[2185,1.10],[2201,1.09],[2217,1.08],[2233,1.07],[2248,1.06],[2258,1.08],
  [2264,1.40],[2267,1.90],[2270,2.40],[2273,2.90],[2276,3.40],[2279,3.90],[2282,4.40],[2285,4.90],[2288,5.35],[2292,5.75],[2297,6.10],[2303,6.35],[2311,6.52],[2320,6.60],[2330,6.63],[2340,6.62],[2350,6.60],[2360,6.58],[2370,6.55],[2380,6.52],[2390,6.47],[2400,6.42],[2410,6.38],[2416,6.10],[2419,5.70],[2422,5.30],[2425,4.90],[2428,4.50],[2431,4.12],[2435,3.75],[2440,3.40],[2446,3.10],[2453,2.85],[2461,2.64],[2470,2.46],[2480,2.31],[2491,2.18],[2503,2.07],[2516,1.98],[2530,1.90],[2545,1.84],[2560,1.79],[2576,1.75],[2592,1.71],[2608,1.68],[2624,1.66],[2640,1.64],[2656,1.62],[2672,1.60],[2688,1.57],[2704,1.55],[2720,1.52],[2736,1.49],[2752,1.46],[2768,1.43],[2784,1.41],[2800,1.38],[2816,1.36],[2832,1.34],[2848,1.32],[2860,1.31]
];

const octD = [
  [0,1.05],[20,1.04],[40,1.04],[60,1.03],[80,1.02],[100,1.02],[120,1.01],[140,1.00],[160,1.00],[180,0.99],[200,0.99],[220,0.98],[240,0.98],[260,0.97],[280,0.97],[300,0.98],[318,1.00],
  [330,1.20],[336,1.50],[342,1.80],[349,2.05],[357,2.25],[367,2.42],[378,2.55],[390,2.66],[402,2.75],[414,2.82],[426,2.88],[438,2.93],[450,2.97],[462,3.00],[474,3.02],[486,3.03],[498,3.02],[510,3.01],[520,3.00],[526,2.70],[530,2.40],[534,2.12],[539,1.90],[545,1.73],[552,1.60],[561,1.50],[572,1.42],[585,1.36],[600,1.31],[616,1.27],[632,1.24],[648,1.22],[664,1.20],[680,1.18],[696,1.17],[712,1.16],[728,1.15],[744,1.14],[760,1.13],[776,1.12],[792,1.12],[808,1.11],[824,1.11],[840,1.10],[856,1.10],[872,1.09],[888,1.09],[904,1.08],[920,1.08],[936,1.08],[952,1.07],[965,1.08],
  [975,1.30],[980,1.65],[985,2.00],[991,2.30],[998,2.55],[1006,2.75],[1015,2.90],[1025,3.00],[1036,3.07],[1048,3.12],[1060,3.15],[1072,3.16],[1084,3.17],[1096,3.16],[1108,3.17],[1120,3.16],[1132,3.15],[1144,3.14],[1152,3.10],[1157,2.80],[1160,2.50],[1163,2.22],[1167,1.98],[1172,1.80],[1178,1.66],[1186,1.55],[1196,1.46],[1208,1.39],[1221,1.33],[1235,1.28],[1250,1.24],[1266,1.21],[1282,1.19],[1298,1.17],[1314,1.16],[1330,1.15],[1346,1.14],[1362,1.13],[1378,1.12],[1394,1.12],[1410,1.11],[1426,1.11],[1442,1.10],[1458,1.10],[1474,1.09],[1490,1.09],[1506,1.08],[1520,1.08],
  [1530,1.40],[1534,1.80],[1538,2.20],[1542,2.60],[1546,3.00],[1550,3.35],[1555,3.65],[1561,3.88],[1568,4.05],[1576,4.18],[1585,4.27],[1595,4.33],[1606,4.36],[1618,4.35],[1630,4.32],[1642,4.30],[1654,4.28],[1666,4.26],[1678,4.24],[1690,4.22],[1702,4.20],[1714,4.18],[1726,4.16],[1738,4.14],[1748,4.12],[1754,3.80],[1757,3.45],[1760,3.10],[1763,2.75],[1766,2.45],[1770,2.18],[1775,1.96],[1781,1.79],[1788,1.66],[1797,1.56],[1808,1.48],[1820,1.42],[1834,1.37],[1849,1.33],[1865,1.30],[1881,1.28],[1897,1.26],[1913,1.24],[1929,1.23],[1945,1.22],[1961,1.21],[1977,1.20],[1993,1.19],[2009,1.19],[2025,1.18],[2041,1.17],[2057,1.17],[2073,1.16],[2089,1.16],[2105,1.15],[2121,1.15],[2137,1.14],[2153,1.14],[2169,1.14],[2185,1.13],[2200,1.13],
  [2210,1.50],[2213,2.00],[2216,2.50],[2219,3.00],[2222,3.50],[2225,4.00],[2228,4.45],[2232,4.85],[2237,5.20],[2243,5.50],[2250,5.75],[2258,5.90],[2267,5.92],[2277,5.82],[2288,5.68],[2300,5.55],[2312,5.45],[2324,5.36],[2336,5.28],[2348,5.21],[2360,5.15],[2372,5.10],[2384,5.05],[2396,5.01],[2404,4.98],[2409,4.60],[2412,4.20],[2415,3.80],[2418,3.40],[2421,3.02],[2425,2.65],[2430,2.33],[2436,2.07],[2443,1.87],[2452,1.72],[2463,1.60],[2476,1.51],[2490,1.44],[2505,1.39],[2521,1.35],[2537,1.32],[2553,1.30],[2569,1.28],[2585,1.26],[2601,1.25],[2617,1.24],[2633,1.23],[2649,1.22],[2665,1.21],[2681,1.21],[2697,1.20],[2713,1.20],[2729,1.19],[2745,1.19],[2761,1.18],[2777,1.18],[2793,1.17],[2809,1.17],[2825,1.16],[2838,1.16],
  [2848,1.60],[2851,2.20],[2854,2.80],[2857,3.40],[2860,4.00],[2863,4.60],[2866,5.20],[2869,5.80],[2872,6.40],[2875,7.00],[2878,7.60],[2881,8.10],[2885,8.45],[2890,8.52],[2897,8.30],[2905,8.10],[2914,7.98],[2924,7.90],[2934,7.85],[2944,7.82],[2954,7.80],[2964,7.79],[2974,7.78],[2984,7.77],[2994,7.76],[3004,7.75],[3014,7.74],[3024,7.73],[3032,7.70],[3036,7.10],[3039,6.50],[3042,5.90],[3045,5.30],[3048,4.75],[3051,4.25],[3055,3.78],[3060,3.35],[3066,2.98],[3073,2.68],[3081,2.43],[3090,2.23],[3100,2.07],[3112,1.95],[3125,1.85],[3139,1.77],[3154,1.71],[3170,1.66],[3186,1.62],[3202,1.58],[3218,1.55],[3234,1.52],[3250,1.50],[3266,1.48],[3282,1.46],[3298,1.44],[3314,1.43],[3330,1.42],[3346,1.41],[3362,1.40],[3378,1.39],[3394,1.38],[3410,1.37],[3426,1.36],[3442,1.35],[3458,1.34],[3474,1.33],[3490,1.32],[3506,1.31],[3522,1.31],[3538,1.30],[3554,1.30],[3570,1.29],[3585,1.29]
];

const seriesName = 'Sn@Ag';
const panelLetters = ['(a)', '(b)', '(c)', '(d)', '(a)', '(b)', '(c)', '(d)'];

// per panel: data, grid box [left, top, width, height], x range, y [min, max, tick, labelStep, decimals]
const panels = [
  { data: leafA, box: [228, 231, 221, 170], x: [-250, 3240], y: [0.7, 2.6, 0.1, 0.2, 1], letter: [190, 227], leg: [235, 245], yName: 'response(R', yGap: 19, xGap: 15 },
  { data: leafB, box: [519, 231, 223, 167], x: [-500, 3500], y: [0.7, 2.8, 0.1, 0.2, 1], letter: [484, 224], leg: [528, 245], yName: 'response(R', yGap: 16, xGap: 17 },
  { data: leafC, box: [229, 436, 222, 169], x: [-500, 3770], y: [0.7, 2.8, 0.1, 0.2, 1], letter: [190, 434], leg: [236, 453], yName: 'response(R', yGap: 20, xGap: 16 },
  { data: leafD, box: [519, 433, 223, 175], x: [-500, 4235], y: [0.25, 3.25, 0.25, 0.5, 1], letter: [481, 436], leg: [527, 451], yName: 'response (R', yGap: 18, xGap: 17 },
  { data: octA, box: [234, 772, 222, 171], x: [-250, 3250], y: [0.8, 2.0, 0.1, 0.2, 1], letter: [202, 768], leg: [242, 787], yName: 'response (R', yGap: 16, xGap: 18 },
  { data: octB, box: [511, 774, 222, 173], x: [-250, 3520], y: [0.8, 2.6, 0.1, 0.2, 1], letter: [484, 764], leg: [518, 790], yName: 'response(R', yGap: 17, xGap: 17 },
  { data: octC, box: [236, 975, 220, 172], x: [-250, 3240], y: [0, 7.5, 0.5, 1, 0], letter: [215, 970], leg: [243, 992], yName: 'response (R', yGap: 11, xGap: 16 },
  { data: octD, box: [510, 978, 221, 166], x: [-500, 4050], y: [0, 9.15, 0.5, 1, 0], letter: [489, 967], leg: [517, 990], yName: 'response (R', yGap: 9, xGap: 17 }
];

const dotColor = '#F28A26';
const lineColor = '#F8B888';
const tickFont = 'Liberation Serif';
const nameFont = 'Liberation Sans';

function tickLabel(step, dec) {
  return function (v) {
    const k = v / step;
    if (Math.abs(k - Math.round(k)) > 1e-6) return '';
    return v.toFixed(dec).replace('-', '\u2212');
  };
}

const grids = [], xAxes = [], yAxes = [], series = [], legends = [];
panels.forEach((p, i) => {
  grids.push({
    left: p.box[0], top: p.box[1], width: p.box[2], height: p.box[3],
    show: true, borderColor: '#444', borderWidth: 1, backgroundColor: 'transparent',
    containLabel: false, outerBoundsMode: 'none'
  });
  xAxes.push({
    type: 'value', gridIndex: i, min: p.x[0], max: p.x[1], interval: 250,
    axisLine: { onZero: false, lineStyle: { color: '#222', width: 1 } },
    axisTick: { show: true, inside: false, length: 3, lineStyle: { color: '#222' } },
    axisLabel: { formatter: tickLabel(500, 0), fontFamily: tickFont, fontSize: 7.5, color: '#555', margin: 4 },
    splitLine: { show: false },
    name: 'time (s)', nameLocation: 'middle', nameGap: p.xGap,
    nameTextStyle: { fontFamily: nameFont, fontWeight: 'bold', fontSize: 10, color: '#111' }
  });
  yAxes.push({
    type: 'value', gridIndex: i, min: p.y[0], max: p.y[1], interval: p.y[2],
    axisLine: { onZero: false, lineStyle: { color: '#222', width: 1 } },
    axisTick: { show: true, inside: false, length: 3, lineStyle: { color: '#222' } },
    axisLabel: { formatter: tickLabel(p.y[3], p.y[4]), fontFamily: tickFont, fontSize: 7.5, color: '#555', margin: 4 },
    splitLine: { show: false },
    name: '{a|' + p.yName + '}{s|air}{a|/R}{s|gas}{a|)}',
    nameLocation: 'middle', nameGap: p.yGap, nameRotate: 90,
    nameTextStyle: {
      rich: {
        a: { fontFamily: nameFont, fontWeight: 'bold', fontSize: 10, color: '#111', lineHeight: 12 },
        s: { fontFamily: nameFont, fontWeight: 'bold', fontSize: 6.5, color: '#111', lineHeight: 7, verticalAlign: 'bottom' }
      }
    }
  });
  series.push({
    name: seriesName, type: 'line', xAxisIndex: i, yAxisIndex: i, data: p.data,
    symbol: 'circle', symbolSize: 5.5, showAllSymbol: true,
    color: dotColor,
    itemStyle: { color: dotColor },
    lineStyle: { color: lineColor, width: 1 },
    emphasis: { disabled: true },
    animation: false
  });
  legends.push({
    data: [seriesName], left: p.leg[0], top: p.leg[1], orient: 'vertical',
    itemWidth: 24, itemHeight: 6, padding: [3, 5, 3, 4],
    borderColor: '#999', borderWidth: 1, borderRadius: 0, backgroundColor: '#fff',
    textStyle: { fontFamily: nameFont, fontWeight: 'bold', fontSize: 8, color: '#111' },
    selectedMode: false
  });
});

const serif = 'Liberation Serif';
const cjk = '"Noto Sans CJK SC"';
const graphics = [
  { type: 'text', left: 'center', top: 118, style: { text: '图 2-3  叶醇温度响应图 (a) 200°  C 响应 (b) 250°  C 响应 (c) 300°  C 响应 (d) 350°  C 响应', font: '16.2px ' + cjk, fill: '#111' } },
  { type: 'text', left: 'center', top: 137, style: { text: 'Fig.2-3 Temperature response diagram of leaf alcohol   (a) 200°C response (b) 250°C response (c)', font: '16.7px ' + serif, fill: '#111' } },
  { type: 'text', left: 'center', top: 156, style: { text: '300°C response (d) 350°C response', font: '16.7px ' + serif, fill: '#111' } },
  { type: 'text', left: 180, top: 677, style: { text: '图 2-4  正辛醇各温度响应图 (a) 200˚C响应 (b) 250˚C响应 (c) 300˚C响应 (d) 350˚C响应', font: '16.2px ' + cjk, fill: '#111' } },
  { type: 'text', left: 190, top: 697, style: { text: 'Fig.2-4 Temperature response diagram of n-octanol(a) 200°C response (b) 250°C response', font: '16.7px ' + serif, fill: '#111' } },
  { type: 'text', left: 'center', top: 717, style: { text: '(c) 300°C response (d) 350°C response', font: '16.7px ' + serif, fill: '#111' } },
  { type: 'text', left: 471, top: 1202, style: { text: '7', font: '16px ' + serif, fill: '#111' } }
];
panels.forEach((p, i) => {
  graphics.push({
    type: 'text', x: p.letter[0], y: p.letter[1],
    style: { text: panelLetters[i], font: '19px ' + serif, fill: '#444', textAlign: 'center', textVerticalAlign: 'middle' }
  });
});

const chart = echarts.init(document.getElementById('chart'), null, { renderer: 'canvas' });
chart.setOption({
  backgroundColor: '#fff',
  animation: false,
  tooltip: { show: false },
  grid: grids,
  xAxis: xAxes,
  yAxis: yAxes,
  legend: legends,
  series: series,
  graphic: graphics
});
window.addEventListener('resize', chart.resize);
</script>
</body>
</html>
